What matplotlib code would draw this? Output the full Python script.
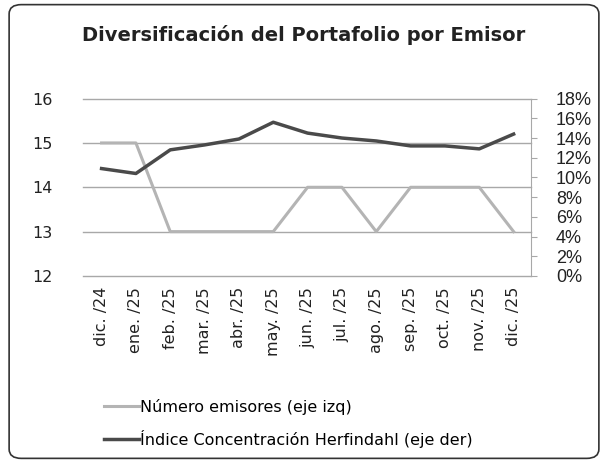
import matplotlib
matplotlib.use("Agg")
import matplotlib.pyplot as plt
from matplotlib.patches import FancyBboxPatch

months = ["dic. /24", "ene. /25", "feb. /25", "mar. /25", "abr. /25", "may. /25",
          "jun. /25", "jul. /25", "ago. /25", "sep. /25", "oct. /25", "nov. /25", "dic. /25"]
num_emisores = [15, 15, 13, 13, 13, 13, 14, 14, 13, 14, 14, 14, 13]
herfindahl = [10.9, 10.4, 12.8, 13.3, 13.9, 15.6, 14.5, 14.0, 13.7, 13.2, 13.2, 12.9, 14.4]
left_ticks = [12, 13, 14, 15, 16]
right_ticks = [0, 2, 4, 6, 8, 10, 12, 14, 16, 18]
right_labels = [f"{v}%" for v in right_ticks]

plt.rcParams['font.family'] = ['DejaVu Sans']
fig = plt.figure(figsize=(6.08, 4.63), dpi=100)

border = FancyBboxPatch((0.015, 0.01), 0.97, 0.98, boxstyle="round,pad=0,rounding_size=0.02",
                        transform=fig.transFigure, fill=False, edgecolor="#333333", linewidth=1.2)
fig.patches.append(border)

ax = fig.add_axes([0.136, 0.404, 0.737, 0.383])
x = list(range(len(months)))
l1, = ax.plot(x, num_emisores, color="#b4b4b4", linewidth=2.2, label="Número emisores (eje izq)")
ax.set_ylim(12, 16)
ax.set_yticks(left_ticks)
ax.set_xlim(-0.55, 12.5)
ax.set_xticks(x)
ax.set_xticklabels(months, rotation=90, fontsize=11.5, color="#222222")
ax.grid(axis='y', color="#a8a8a8", linewidth=1)
for gl in ax.get_ygridlines():
    gl.set_clip_on(False)
ax.set_axisbelow(True)
for s in ax.spines.values():
    s.set_visible(False)
ax.tick_params(axis='both', length=0, labelsize=11.5, colors="#222222")
ax.tick_params(axis='y', pad=22)
ax.tick_params(axis='x', pad=8)

ax2 = ax.twinx()
l2, = ax2.plot(x, herfindahl, color="#4a4a4a", linewidth=2.5,
               label="Índice Concentración Herfindahl (eje der)")
ax2.set_ylim(0, 18)
ax2.set_yticks(right_ticks)
ax2.set_yticklabels(right_labels, fontfamily=['Liberation Sans Narrow', 'Liberation Sans', 'DejaVu Sans'],
                    fontsize=13)
for s in ax2.spines.values():
    s.set_visible(False)
ax2.spines['right'].set_visible(True)
ax2.spines['right'].set_color("#a8a8a8")
ax2.tick_params(axis='y', length=4, color="#a8a8a8", labelcolor="#222222", pad=14)

fig.text(0.5, 0.925, "Diversificación del Portafolio por Emisor", ha="center", va="center",
         fontsize=14, fontweight="bold", color="#222222")

fig.legend(handles=[l1, l2], loc="upper left", bbox_to_anchor=(0.16, 0.153), frameon=False,
           fontsize=11.5, handlelength=2.2, handletextpad=0.1, labelspacing=0.95,
           borderaxespad=0)

fig.savefig("out.png", dpi=100)
